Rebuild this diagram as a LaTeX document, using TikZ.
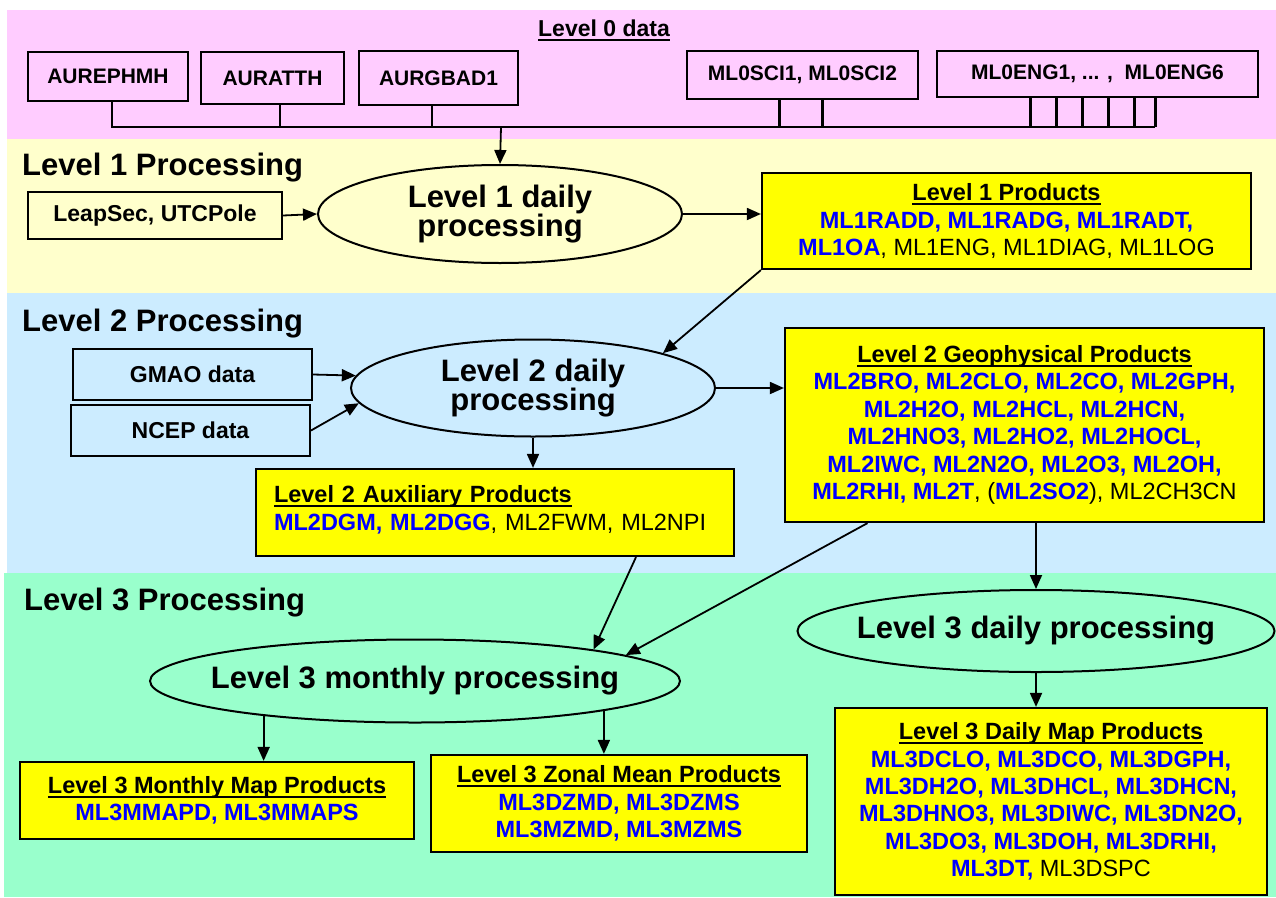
\documentclass[tikz,border=0pt]{standalone}
\usepackage{fontspec}
\setmainfont{Liberation Sans}
\usetikzlibrary{shapes.geometric,arrows.meta}
\definecolor{bandpink}{RGB}{255,204,255}
\definecolor{bandyellow}{RGB}{255,255,204}
\definecolor{bandblue}{RGB}{204,236,255}
\definecolor{bandgreen}{RGB}{153,255,204}
\definecolor{prodyellow}{RGB}{255,255,0}
\definecolor{prodblue}{RGB}{0,0,255}
\newcommand{\blu}[1]{\textcolor{prodblue}{\textbf{#1}}}
\newcommand{\prodtitle}[1]{\setbox0\hbox{\bfseries#1}\rlap{\rule[-4.5pt]{\wd0}{2pt}}\box0}

\begin{document}
\begin{tikzpicture}[x=1pt,y=-1pt]
  \tikzstyle{heading}=[anchor=west,inner sep=0pt,font=\fontsize{31}{33}\selectfont\bfseries]
  \tikzstyle{databox}=[draw,line width=2pt,inner sep=0pt,font=\fontsize{21}{24}\selectfont\bfseries]
  \tikzstyle{inbox}=[draw,line width=2pt,inner sep=0pt,font=\fontsize{23}{26}\selectfont\bfseries]
  \tikzstyle{procell}=[draw,ellipse,line width=2pt,inner sep=0pt,align=center,font=\fontsize{31}{28}\selectfont\bfseries]
  \tikzstyle{prod}=[draw,fill=prodyellow,line width=2.2pt,inner sep=0pt,align=center,font=\fontsize{23.5}{27.4}\selectfont]
  \tikzstyle{wire}=[line width=2.2pt]
  \tikzstyle{arr}=[line width=1.8pt,-{Triangle[length=14pt,width=12pt]}]
  \useasboundingbox (0,0) rectangle (1276,897);

  \fill[bandpink] (7,10) rectangle (1276,139);
  \fill[bandyellow] (7,139) rectangle (1276,293);
  \fill[bandblue] (7,293) rectangle (1276,573);
  \fill[bandgreen] (4,573) rectangle (1276,897);

  % level 0
  \node[inner sep=0pt,font=\fontsize{23}{26}\selectfont] (lvl0) at (604,30) {\prodtitle{Level 0 data}};
  \node[databox,minimum width=160,minimum height=49] (eph) at (108,76.5) {AUREPHMH};
  \node[databox,minimum width=143,minimum height=52] (att) at (272.5,78) {AURATTH};
  \node[databox,minimum width=159,minimum height=54] (gbad) at (438.5,78) {AURGBAD1};
  \node[databox,minimum width=231,minimum height=48] (sci) at (802.5,75) {ML0SCI1, ML0SCI2};
  \node[databox,minimum width=321,minimum height=46] (eng) at (1097.5,74) {ML0ENG1, ... ,\ \ ML0ENG6};

  % level 1
  \node[heading] (title1) at (22,168) {Level 1 Processing};
  \node[inbox,minimum width=254,minimum height=47] (leap) at (155,215.5) {LeapSec, UTCPole};
  \node[procell,minimum width=364,minimum height=98] (l1proc) at (500,214) {Level 1 daily\\processing};
  \node[prod,minimum width=489,minimum height=96] (l1prod) at (1006.5,221)
    {\prodtitle{Level 1 Products}\\
     \blu{ML1RADD, ML1RADG, ML1RADT,}\\
     \blu{ML1OA}, ML1ENG, ML1DIAG, ML1LOG};

  % level 2
  \node[heading] (title2) at (22,324) {Level 2 Processing};
  \node[inbox,minimum width=239,minimum height=51] (gmao) at (192.5,374.5) {GMAO data};
  \node[inbox,minimum width=239,minimum height=51] (ncep) at (190.5,430.5) {NCEP data};
  \node[procell,minimum width=364,minimum height=97] (l2proc) at (533,388) {Level 2 daily\\processing};
  \node[prod,minimum width=479,minimum height=194] (l2geo) at (1024.5,425)
    {\prodtitle{Level 2 Geophysical Products}\\
     \blu{ML2BRO, ML2CLO, ML2CO, ML2GPH,}\\
     \blu{ML2H2O, ML2HCL, ML2HCN,}\\
     \blu{ML2HNO3, ML2HO2, ML2HOCL,}\\
     \blu{ML2IWC, ML2N2O, ML2O3, ML2OH,}\\
     \blu{ML2RHI, ML2T}, (\blu{ML2SO2}), ML2CH3CN};
  \node[prod,minimum width=478,minimum height=87,text width=442,align=left] (l2aux) at (495,512.5)
    {\prodtitle{Level 2 Auxiliary Products}\\
     \blu{ML2DGM, ML2DGG}, ML2FWM, ML2NPI\\[-18pt]\mbox{}};

  % level 3
  \node[heading] (title3) at (24,603) {Level 3 Processing};
  \node[procell,minimum width=530,minimum height=83] (l3mon) at (415,681) {\makebox[0pt]{Level 3 monthly processing}};
  \node[procell,minimum width=477,minimum height=82] (l3day) at (1036,631) {\makebox[0pt]{Level 3 daily processing}};
  \node[prod,minimum width=394,minimum height=77] (l3mmap) at (217,800.5)
    {\prodtitle{Level 3 Monthly Map Products}\\
     \blu{ML3MMAPD, ML3MMAPS}};
  \node[prod,minimum width=376,minimum height=97] (l3zon) at (619,803.5)
    {\prodtitle{Level 3 Zonal Mean Products}\\
     \blu{ML3DZMD, ML3DZMS}\\
     \blu{ML3MZMD, ML3MZMS}};
  \node[prod,minimum width=432,minimum height=187] (l3dmap) at (1051,801.5)
    {\prodtitle{Level 3 Daily Map Products}\\
     \blu{ML3DCLO, ML3DCO, ML3DGPH,}\\
     \blu{ML3DH2O, ML3DHCL, ML3DHCN,}\\
     \blu{ML3DHNO3, ML3DIWC, ML3DN2O,}\\
     \blu{ML3DO3, ML3DOH, ML3DRHI,}\\
     \blu{ML3DT,} ML3DSPC};

  % level 0 bus
  \coordinate (busend) at (1155,127);
  \coordinate (busdrop) at (501,127);
  \draw[wire] ([xshift=4pt]eph.south) |- (busend);
  \draw[wire] ([xshift=7.5pt]att.south) -- ([xshift=7.5pt]att.south |- busend);
  \draw[wire] ([xshift=-6.5pt]gbad.south) -- ([xshift=-6.5pt]gbad.south |- busend);
  \foreach \dx in {-23,20}
    \draw[wire] ([xshift=\dx pt]sci.south) -- ([xshift=\dx pt]sci.south |- busend);
  \foreach \dx in {-67,-41,-15,11,37,58}
    \draw[wire] ([xshift=\dx pt]eng.south) -- ([xshift=\dx pt]eng.south |- busend);
  \draw[arr] (busdrop) -- (l1proc.north);

  % connectors
  \draw[arr] (leap.east) -- (l1proc.west);
  \draw[arr] (l1proc.east) -- (l1proc.east -| l1prod.west);
  \draw[arr] (l1prod.south west) -- (l2proc.15);
  \draw[arr] (gmao.east) -- (l2proc.176);
  \draw[arr] (ncep.east) -- (l2proc.185);
  \draw[arr] (l2proc.east) -- (l2proc.east -| l2geo.west);
  \draw[arr] (l2proc.south) -- (l2proc.south |- l2aux.north);
  \draw[arr] ([xshift=141pt]l2aux.south) -- (l3mon.10);
  \draw[arr] ([xshift=-157pt]l2geo.south) -- (l3mon.7);
  \draw[arr] (l3day.north |- l2geo.south) -- (l3day.north);
  \draw[arr] (l3day.south) -- (l3day.south |- l3dmap.north);
  \draw[arr] (l3mon.193) -- (l3mon.193 |- l3mmap.north);
  \draw[arr] (l3mon.-9) -- (l3mon.-9 |- l3zon.north);
\end{tikzpicture}
\end{document}
